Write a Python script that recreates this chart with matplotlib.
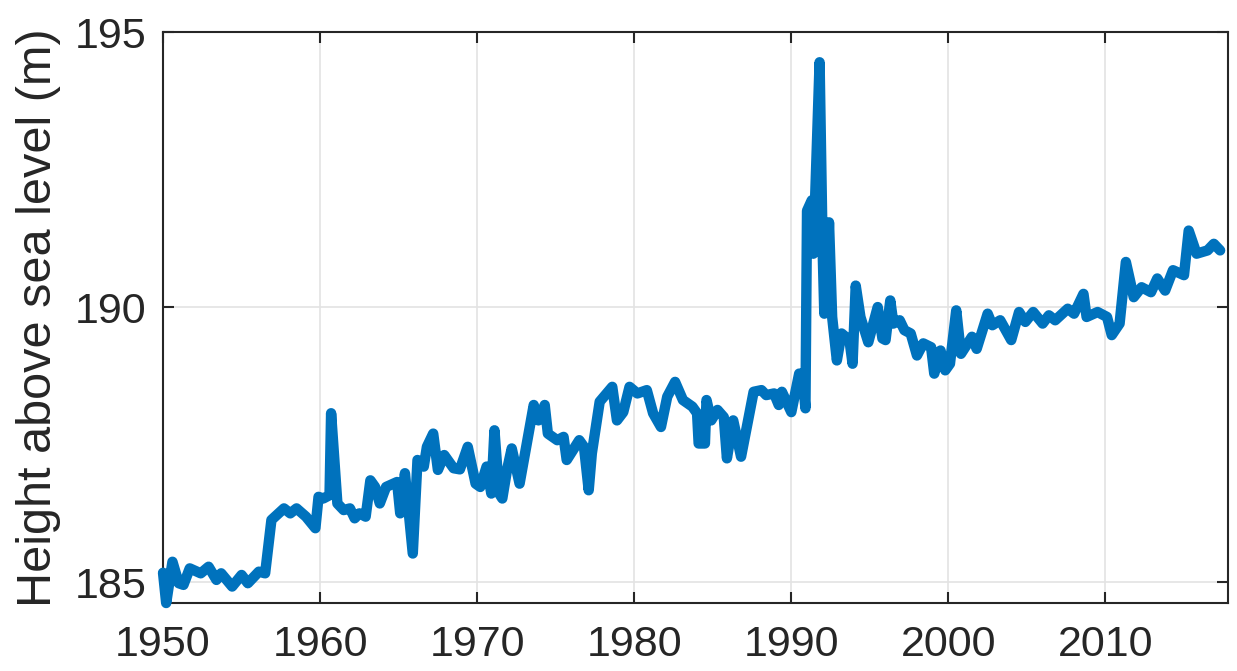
import matplotlib
matplotlib.use("Agg")
import matplotlib.pyplot as plt

years = [1950.0, 1950.2, 1950.6, 1951.0, 1951.3, 1951.7, 1952.4, 1952.9, 1953.4, 1953.7,
         1954.4, 1955.0, 1955.4, 1956.1, 1956.5, 1956.9, 1957.7, 1958.1, 1958.5, 1959.1,
         1959.7, 1959.9, 1960.2, 1960.6, 1960.7, 1961.1, 1961.5, 1961.9, 1962.2, 1962.5,
         1962.9, 1963.2, 1963.5, 1963.8, 1964.2, 1964.9, 1965.1, 1965.4, 1965.9, 1966.2,
         1966.6, 1966.8, 1967.2, 1967.5, 1967.9, 1968.5, 1968.9, 1969.4, 1969.9, 1970.2,
         1970.6, 1970.9, 1971.1, 1971.4, 1971.6, 1971.9, 1972.2, 1972.7, 1973.6, 1973.9,
         1974.3, 1974.5, 1975.1, 1975.5, 1975.7, 1976.5, 1976.8, 1977.1, 1977.3, 1977.8,
         1978.6, 1978.9, 1979.3, 1979.7, 1980.2, 1980.8, 1981.2, 1981.7, 1982.1, 1982.6,
         1983.1, 1983.7, 1984.0, 1984.1, 1984.5, 1984.6, 1984.9, 1985.3, 1985.7, 1985.9,
         1986.3, 1986.8, 1987.6, 1988.1, 1988.4, 1988.9, 1989.2, 1989.4, 1990.0, 1990.5,
         1990.7, 1990.9, 1991.0, 1991.3, 1991.4, 1991.8, 1992.0, 1992.1, 1992.3, 1992.4,
         1992.6, 1992.9, 1993.2, 1993.7, 1993.9, 1994.1, 1994.4, 1994.9, 1995.5, 1995.8,
         1996.0, 1996.3, 1996.5, 1996.9, 1997.2, 1997.6, 1998.0, 1998.4, 1998.9, 1999.1,
         1999.5, 1999.8, 2000.1, 2000.5, 2000.8, 2001.5, 2001.8, 2002.5, 2002.8, 2003.3,
         2004.0, 2004.5, 2004.9, 2005.4, 2006.0, 2006.4, 2006.8, 2007.6, 2008.0, 2008.6,
         2008.8, 2009.5, 2010.1, 2010.4, 2010.9, 2011.3, 2011.8, 2012.3, 2012.9, 2013.3,
         2013.8, 2014.3, 2015.0, 2015.3, 2015.8, 2016.5, 2016.9, 2017.3]

height = [185.17, 184.62, 185.37, 184.98, 184.95, 185.25, 185.16, 185.28, 185.04, 185.16,
          184.92, 185.13, 184.98, 185.19, 185.16, 186.13, 186.34, 186.25, 186.34, 186.19,
          185.98, 186.55, 186.52, 186.58, 188.07, 186.43, 186.31, 186.34, 186.16, 186.25,
          186.19, 186.85, 186.73, 186.43, 186.73, 186.82, 186.25, 186.98, 185.52, 187.22,
          187.10, 187.46, 187.70, 187.04, 187.31, 187.07, 187.05, 187.46, 186.79, 186.73,
          187.10, 186.61, 187.76, 186.61, 186.52, 187.04, 187.43, 186.79, 188.22, 187.94,
          188.22, 187.70, 187.58, 187.64, 187.22, 187.58, 187.46, 186.67, 187.34, 188.28,
          188.55, 187.94, 188.09, 188.55, 188.43, 188.49, 188.07, 187.82, 188.37, 188.64,
          188.31, 188.19, 188.07, 187.52, 187.52, 188.31, 187.94, 188.13, 188.00, 187.25,
          187.94, 187.28, 188.46, 188.49, 188.40, 188.43, 188.22, 188.46, 188.09, 188.79,
          188.79, 188.16, 191.75, 191.94, 190.97, 194.45, 190.97, 189.88, 190.67, 191.54,
          189.82, 189.03, 189.52, 189.40, 188.97, 190.39, 189.82, 189.36, 190.00, 189.43,
          189.40, 190.12, 189.70, 189.76, 189.58, 189.52, 189.12, 189.34, 189.27, 188.79,
          189.21, 188.85, 188.97, 189.94, 189.15, 189.46, 189.24, 189.88, 189.67, 189.76,
          189.40, 189.91, 189.73, 189.91, 189.70, 189.85, 189.76, 189.97, 189.88, 190.24,
          189.82, 189.91, 189.82, 189.49, 189.70, 190.82, 190.18, 190.36, 190.27, 190.52,
          190.30, 190.67, 190.58, 191.39, 190.97, 191.03, 191.15, 191.03]

xticks = [1950, 1960, 1970, 1980, 1990, 2000, 2010]
yticks = [185, 190, 195]
ylabel = "Height above sea level (m)"

plt.rcParams['font.family'] = ['Liberation Sans', 'DejaVu Sans']

fig = plt.figure(figsize=(12.37, 6.71), dpi=100)
ax = fig.add_axes([0.1318, 0.1013, 0.8609, 0.851])
ax.plot(years, height, color='#0072BD', lw=7.5, solid_joinstyle='round',
        solid_capstyle='round', zorder=3, clip_on=False)
ax.set_xlim(1950, 2017.8)
ax.set_ylim(184.62, 195)
ax.set_xticks(xticks)
ax.set_yticks(yticks)
ax.grid(True, color='#e3e3e3', lw=1.2, zorder=0)
ax.tick_params(direction='in', length=8, width=1.5, top=True, right=True,
               labelsize=31, colors='#262626', pad=12)
ax.tick_params(axis='x', pad=16)
for s in ax.spines.values():
    s.set_linewidth(1.5)
    s.set_color('#262626')
ax.set_ylabel(ylabel, fontsize=35, color='#262626', labelpad=10)
fig.savefig("out.png", dpi=100)
